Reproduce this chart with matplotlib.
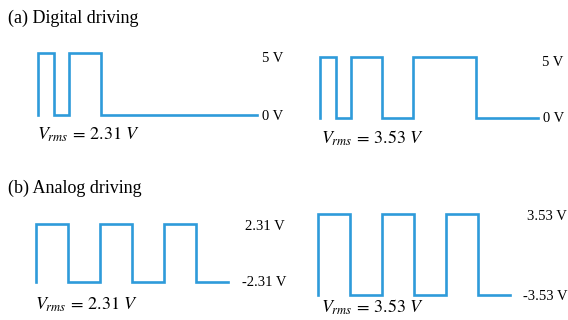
import numpy as np
import matplotlib
matplotlib.use('Agg')
import matplotlib.pyplot as plt

plt.rcParams['mathtext.fontset'] = 'stix'
serif = 'Liberation Serif'
blue = '#2e9bda'

# digital driving: transition times (slots) and levels
dig_t_a = [0, 1, 2, 4, 14]
dig_v_a = [5, 0, 5, 0]
dig_t_b = [0, 1, 2, 4, 6, 10, 14]
dig_v_b = [5, 0, 5, 0, 5, 0]

# analog driving: half periods
ana_t = [0, 1, 2, 3, 4, 5, 6]
ana_v_a = [2.31, -2.31, 2.31, -2.31, 2.31, -2.31]
ana_v_b = [3.53, -3.53, 3.53, -3.53, 3.53, -3.53]

W, H = 568, 320
fig = plt.figure(figsize=(W/100, H/100), dpi=100)

def panel(x0, x1, ytop, ybot, t, v, lo, hi, base):
	ax = fig.add_axes([x0/W, 1-ybot/H, (x1-x0)/W, (ybot-ytop)/H])
	# step wave, starting with a vertical edge from the base level
	xs = [t[0]]
	ys = [base]
	for i in range(len(v)):
		xs += [t[i], t[i+1]]
		ys += [v[i], v[i]]
	ax.plot(xs, ys, color=blue, lw=1.9, clip_on=False, solid_joinstyle='miter')
	ax.set_xlim(t[0], t[-1])
	ax.set_ylim(lo, hi)
	ax.axis('off')
	return ax

panel(38, 257, 53, 115, dig_t_a, dig_v_a, 0, 5, 0)
panel(320, 538, 57, 118, dig_t_b, dig_v_b, 0, 5, 0)
panel(36, 228, 224, 282, ana_t, ana_v_a, -2.31, 2.31, -2.31)
panel(318, 510, 214, 295, ana_t, ana_v_b, -3.53, 3.53, -3.53)

def ftext(x, y, s, size=10.5, ha='left', va='center', **kw):
	fig.text(x/W, 1-y/H, s, fontsize=size, ha=ha, va=va, **kw)

ftext(8, 18, '(a) Digital driving', size=13, family=serif)
ftext(8, 188, '(b) Analog driving', size=13, family=serif)

ftext(262, 58, '5 V', family=serif)
ftext(262, 117, '0 V', family=serif)
ftext(542, 62, '5 V', family=serif)
ftext(543, 119, '0 V', family=serif)
ftext(245, 227, '2.31 V', family=serif)
ftext(242, 283, '-2.31 V', family=serif)
ftext(527, 216, '3.53 V', family=serif)
ftext(523, 297, '-3.53 V', family=serif)

ftext(37, 140, r'$V_{rms}\,=\,2.31\ V$', size=13, va='baseline')
ftext(321, 144, r'$V_{rms}\,=\,3.53\ V$', size=13, va='baseline')
ftext(35, 310, r'$V_{rms}\,=\,2.31\ V$', size=13, va='baseline')
ftext(321, 313, r'$V_{rms}\,=\,3.53\ V$', size=13, va='baseline')

fig.savefig('out.png', dpi=100, facecolor='white')
